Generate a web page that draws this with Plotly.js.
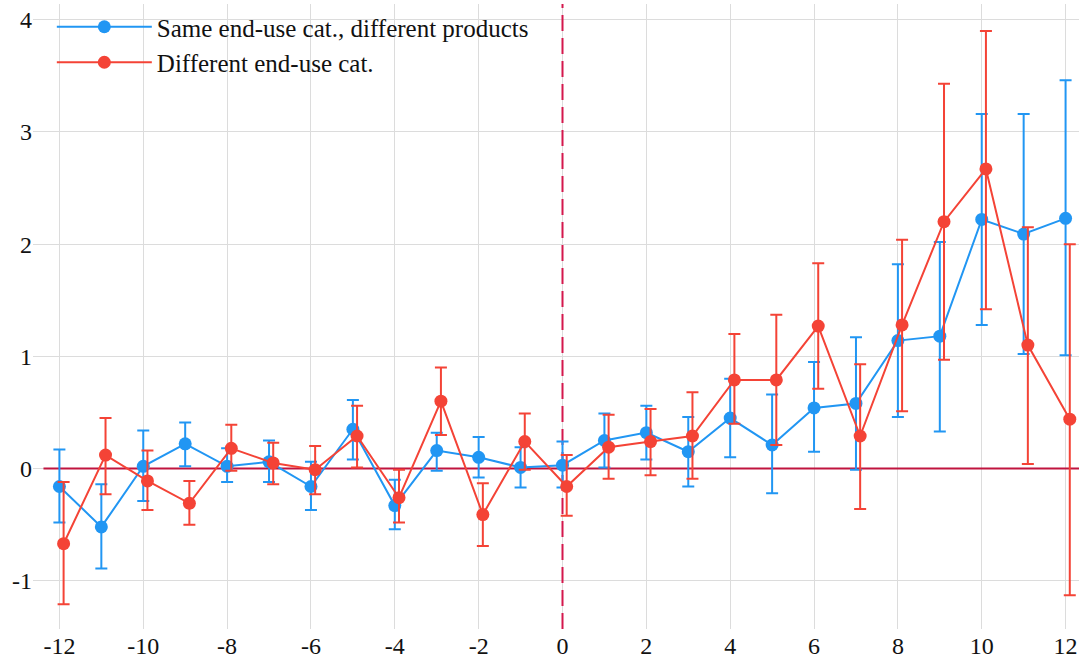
<!DOCTYPE html>
<html>
<head>
<meta charset="utf-8">
<script src="https://cdn.plot.ly/plotly-3.0.1.min.js"></script>
<style>
html,body{margin:0;padding:0;background:#fff;}
#chart{width:1079px;height:661px;}
</style>
</head>
<body>
<div id="chart"></div>
<script>
// Event-time periods and tick labels
const periods = [-12,-11,-10,-9,-8,-7,-6,-5,-4,-3,-2,-1,0,1,2,3,4,5,6,7,8,9,10,11,12];
const tickValues = [-12,-10,-8,-6,-4,-2,0,2,4,6,8,10,12];
const tickLabels = ["-12","-10","-8","-6","-4","-2","0","2","4","6","8","10","12"];
const yTickValues = [-1,0,1,2,3,4];
const yTickLabels = ["-1","0","1","2","3","4"];

// Series 1: Same end-use cat., different products
const sameName = "Same end-use cat., different products";
const sameCoef = [-0.16,-0.52,0.02,0.22,0.02,0.06,-0.16,0.35,-0.33,0.16,0.10,0.01,0.03,0.25,0.32,0.15,0.45,0.21,0.54,0.58,1.14,1.18,2.22,2.09,2.23];
const sameHigh = [0.17,-0.14,0.34,0.41,0.18,0.25,0.06,0.61,-0.10,0.32,0.28,0.19,0.24,0.49,0.56,0.46,0.80,0.66,0.95,1.17,1.82,2.02,3.16,3.16,3.46];
const sameLow  = [-0.48,-0.89,-0.29,0.02,-0.12,-0.12,-0.37,0.08,-0.54,-0.02,-0.08,-0.17,-0.17,0.01,0.08,-0.16,0.10,-0.22,0.15,-0.01,0.46,0.33,1.28,1.02,1.01];

// Series 2: Different end-use cat.
const diffName = "Different end-use cat.";
const diffCoef = [-0.67,0.12,-0.11,-0.31,0.18,0.05,-0.01,0.29,-0.26,0.60,-0.41,0.24,-0.16,0.19,0.24,0.29,0.79,0.79,1.27,0.29,1.28,2.20,2.67,1.10,0.44];
const diffHigh = [-0.12,0.45,0.16,-0.11,0.39,0.23,0.20,0.56,-0.01,0.90,-0.13,0.49,0.12,0.48,0.53,0.68,1.20,1.37,1.83,0.93,2.04,3.43,3.90,2.15,2.00];
const diffLow  = [-1.21,-0.23,-0.37,-0.50,-0.02,-0.14,-0.23,0.01,-0.48,0.30,-0.69,-0.01,-0.42,-0.09,-0.06,-0.09,0.40,0.21,0.71,-0.36,0.51,0.97,1.42,0.04,-1.13];

// Reference lines: zero effect and event date
const refZero = 0;
const eventPeriod = 0;

const dodge = 0.1;
const xRange = [-12.63, 12.32];
const yRange = [-1.43, 4.14];
const BLUE = "#2196F3";
const RED = "#F44336";
const FONT = "Liberation Serif";

function mkTrace(name, xs, coef, hi, lo, color) {
  return {
    type: "scatter", mode: "lines+markers", name: name, x: xs, y: coef,
    line: {color: color, width: 2},
    marker: {color: color, size: 13},
    error_y: {
      type: "data", symmetric: false,
      array: hi.map((h, i) => h - coef[i]),
      arrayminus: lo.map((l, i) => coef[i] - l),
      color: color, thickness: 2, width: 6
    }
  };
}

const traces = [
  {type: "scatter", mode: "lines", x: [-12.38, xRange[1] + 1], y: [refZero, refZero],
   line: {color: "rgb(192,20,63)", width: 2}, showlegend: false, hoverinfo: "skip"},
  {type: "scatter", mode: "lines", x: [eventPeriod, eventPeriod], y: [yRange[0], yRange[1]],
   line: {color: "rgb(212,23,76)", width: 2, dash: "16px,7px"}, showlegend: false, hoverinfo: "skip"},
  mkTrace(sameName, periods, sameCoef, sameHigh, sameLow, BLUE),
  mkTrace(diffName, periods.map(p => p + dodge), diffCoef, diffHigh, diffLow, RED)
];

const layout = {
  width: 1079, height: 661,
  margin: {l: 33, r: 0, t: 4, b: 32},
  font: {family: FONT, size: 24, color: "#111"},
  showlegend: true,
  legend: {x: 0.018, y: 1, bgcolor: "rgba(0,0,0,0)", font: {family: FONT, size: 25}, itemwidth: 95},
  xaxis: {range: xRange, tickmode: "array", tickvals: tickValues, ticktext: tickLabels,
          gridcolor: "#dcdcdc", zeroline: false, tickfont: {family: FONT, size: 24}},
  yaxis: {range: yRange, tickmode: "array", tickvals: yTickValues, ticktext: yTickLabels,
          gridcolor: "#dcdcdc", zeroline: false, tickfont: {family: FONT, size: 24}}
};

function draw() {
  return Plotly.newPlot("chart", traces, layout, {displayModeBar: false, staticPlot: true}).then(function (gd) {
    // make sure every text element uses the serif face
    document.querySelectorAll("#chart text").forEach(function (t) {
      t.style.setProperty("font-family", "'Liberation Serif', 'Times New Roman', serif", "important");
      void getComputedStyle(t).fontFamily;
    });
    return gd;
  });
}

if (document.fonts && document.fonts.load) {
  document.fonts.load("24px 'Liberation Serif'").then(draw, draw);
} else {
  draw();
}
</script>
</body>
</html>
